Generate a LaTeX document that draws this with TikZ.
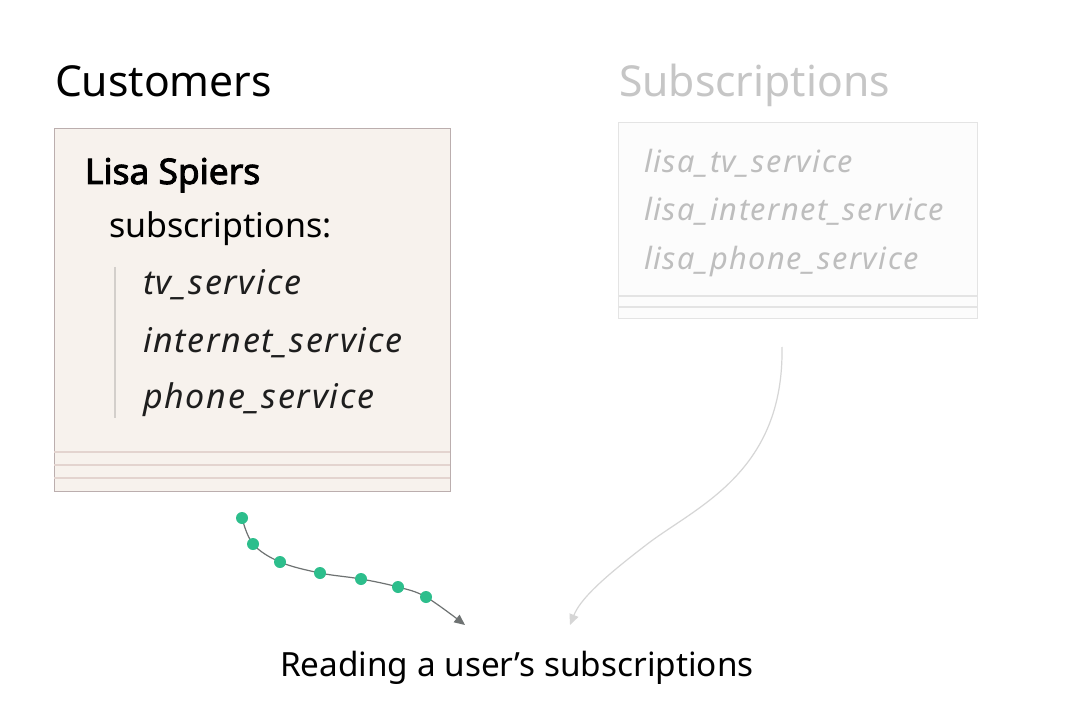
\documentclass[tikz,border=0pt]{standalone}
\usepackage{fontspec}
\setmainfont{Noto Sans}[AutoFakeBold=2.6]
\newfontfamily\spacedfont{Noto Sans}[LetterSpace=5]
\usetikzlibrary{arrows.meta}
\definecolor{custfill}{HTML}{F7F2ED}
\definecolor{custline}{HTML}{BBAEAE}
\definecolor{custrule}{HTML}{E3D4CF}
\definecolor{barcol}{HTML}{D3CFCB}
\definecolor{subfill}{HTML}{FCFCFC}
\definecolor{subline}{HTML}{E4E4E4}
\definecolor{subtext}{HTML}{BEBEBE}
\definecolor{subtitle}{HTML}{C6C6C6}
\definecolor{itemink}{HTML}{1E1E1E}
\definecolor{dotgreen}{HTML}{2DBE8C}
\definecolor{pathgray}{HTML}{6E7272}
\definecolor{fadearrow}{HTML}{D6D6D6}
\tikzset{
  basetxt/.style={anchor=base west, inner sep=0pt, outer sep=0pt},
  tbltitle/.style={basetxt, font=\fontsize{32}{36}\selectfont},
  persontxt/.style={basetxt, font=\fontsize{26.5}{30}\selectfont\bfseries},
  fieldtxt/.style={basetxt, font=\fontsize{25.5}{30}\selectfont},
  itemtxt/.style={basetxt, text=itemink, font=\spacedfont\fontsize{25.5}{30}\selectfont\itshape},
  subitemtxt/.style={basetxt, text=subtext, font=\spacedfont\fontsize{23}{28}\selectfont\itshape},
  greendot/.style={circle, fill=dotgreen, inner sep=0pt, minimum size=9pt},
}
\begin{document}
\begin{tikzpicture}[x=0.75pt, y=-0.75pt]
\useasboundingbox[fill=white] (0,0) rectangle (1066,716);
% Customers table
\node[tbltitle] (custtitle) at (55,97) {Customers};
\node[draw=custline, fill=custfill, line width=0.8pt, inner sep=0pt,
      minimum width=297pt, minimum height=272.25pt, anchor=north west]
      (cust) at (54,128) {};
\draw[custrule, line width=0.8pt] (54,452) -- (450,452);
\draw[custrule, line width=0.8pt] (54,465) -- (450,465);
\draw[custrule, line width=0.8pt] (54,478) -- (450,478);
\node[persontxt] (lisa) at (85,184) {Lisa Spiers};
\node[fieldtxt] (subs) at (109,238) {subscriptions:};
\draw[barcol, line width=2.2pt] (115,267) -- (115,418);
\node[itemtxt] (tv) at (143,295) {tv\_service};
\node[itemtxt] (inet) at (143,352) {internet\_service};
\node[itemtxt] (phone) at (143,408) {phone\_service};
% Subscriptions table
\node[tbltitle, text=subtitle] (subtitle) at (619,97) {Subscriptions};
\node[draw=subline, fill=subfill, line width=0.8pt, inner sep=0pt,
      minimum width=269.25pt, minimum height=147pt, anchor=north west]
      (subtab) at (618,122) {};
\draw[subline, line width=0.8pt] (618,296) -- (977,296);
\draw[subline, line width=0.8pt] (618,307) -- (977,307);
\node[subitemtxt] (s1) at (644,173) {lisa\_tv\_service};
\node[subitemtxt] (s2) at (644,221) {lisa\_internet\_service};
\node[subitemtxt] (s3) at (644,270) {lisa\_phone\_service};
% label
\node[basetxt, font=\fontsize{25}{30}\selectfont] (label) at (280,676) {Reading a user’s subscriptions};
% green path
\coordinate (g0) at (242,518);
\coordinate (g1) at (253,544);
\coordinate (g2) at (280,562);
\coordinate (g3) at (320,573);
\coordinate (g4) at (361,579);
\coordinate (g5) at (398,587);
\coordinate (g6) at (426,597);
\coordinate (gend) at (465,625);
\draw[pathgray, line width=0.9pt, -{Triangle[length=8pt,width=7pt]}]
  plot[smooth, tension=0.6] coordinates {(242,518) (253,544) (280,562) (320,573) (361,579) (398,587) (426,597) (465,625)};
\foreach \p in {g0,g1,g2,g3,g4,g5,g6} \node[greendot] at (\p) {};
% faded arrow
\coordinate (fstart) at (782,347);
\coordinate (fend) at (570,625);
\draw[fadearrow, line width=0.9pt, -{Triangle[length=8pt,width=7pt]}]
  (fstart) .. controls (784,470) and (700,505) .. (650,542)
  .. controls (600,580) and (580,600) .. (fend);
\end{tikzpicture}
\end{document}
